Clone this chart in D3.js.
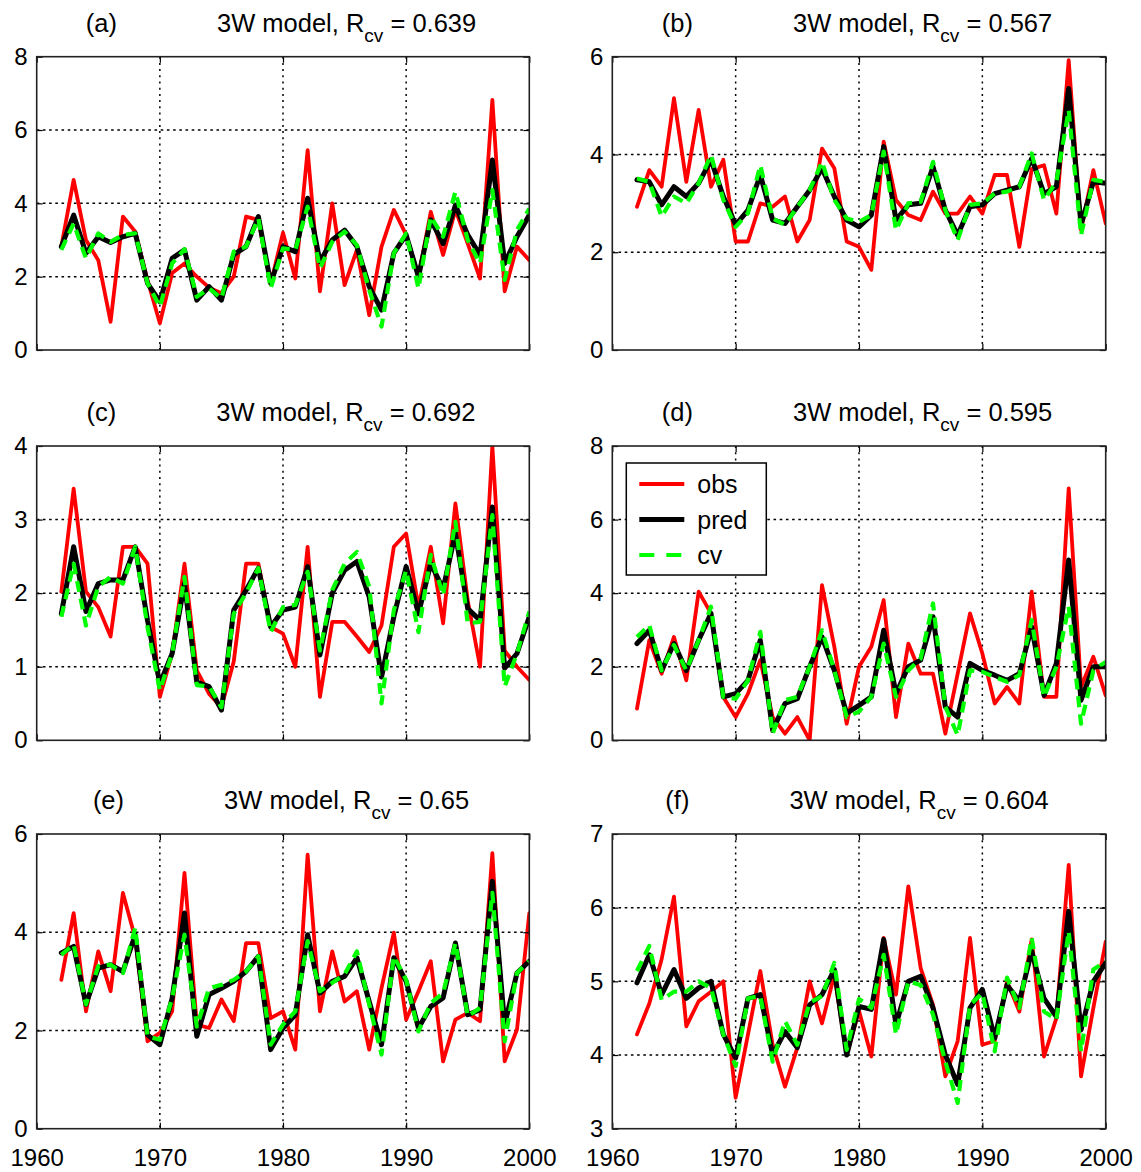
<!DOCTYPE html>
<html><head><meta charset="utf-8">
<script src="https://cdn.jsdelivr.net/npm/d3@7"></script>
<style>
body{margin:0;background:#fff}
svg text{font-family:"Liberation Sans",Arial,Helvetica,sans-serif}
</style>
</head><body>
<svg id="chart" width="1141" height="1172"></svg>
<script>
// ---------- data ----------
const years = [1962,1963,1964,1965,1966,1967,1968,1969,1970,1971,1972,1973,1974,1975,1976,1977,1978,1979,1980,
               1981,1982,1983,1984,1985,1986,1987,1988,1989,1990,1991,1992,1993,1994,1995,1996,1997,1998,1999,2000];
const xTickValues = [1960,1970,1980,1990,2000];
const panelLetters = ["(a)","(b)","(c)","(d)","(e)","(f)"];
const rcvValues = ["0.639","0.567","0.692","0.595","0.65","0.604"];
const seriesNames = ["obs","pred","cv"];

const yTicksA = [0,2,4,6,8];
const yTicksB = [0,2,4,6];
const yTicksC = [0,1,2,3,4];
const yTicksD = [0,2,4,6,8];
const yTicksE = [0,2,4,6];
const yTicksF = [3,4,5,6,7];

const obsA  = [2.82,4.64,3.0,2.45,0.77,3.64,3.23,1.9,0.73,2.1,2.36,2.0,1.7,1.55,2.0,3.64,3.55,1.8,3.2,
               1.95,5.45,1.6,4.0,1.77,2.73,0.95,2.82,3.82,3.14,2.0,3.77,2.59,3.82,2.9,1.95,6.82,1.6,2.82,2.45];
const predA = [2.82,3.68,2.64,3.09,2.93,3.09,3.18,1.82,1.32,2.5,2.73,1.36,1.73,1.36,2.6,2.82,3.64,1.82,2.82,
               2.68,4.14,2.41,3.0,3.27,2.82,1.73,1.09,2.64,3.14,2.0,3.55,2.9,3.95,3.14,2.59,5.18,2.36,3.09,3.68];
const cvA   = [2.73,3.45,2.5,3.18,2.95,3.14,3.18,1.82,1.18,2.36,2.75,1.45,1.68,1.41,2.68,2.82,3.59,1.68,2.77,
               2.73,3.91,2.23,2.95,3.23,2.86,1.64,0.64,2.64,3.18,1.68,3.64,3.09,4.32,3.0,2.36,4.36,1.91,3.27,3.86];

const obsB  = [2.93,3.68,3.34,5.15,3.44,4.91,3.34,3.89,2.22,2.22,3.0,2.93,3.14,2.22,2.66,4.12,3.72,2.22,2.11,
               1.64,4.26,3.07,2.76,2.66,3.24,2.79,2.79,3.14,2.79,3.58,3.58,2.11,3.7,3.78,2.79,5.93,2.45,3.68,2.59];
const predB = [3.48,3.44,2.97,3.34,3.14,3.41,3.89,3.14,2.56,2.86,3.58,2.66,2.59,2.93,3.27,3.72,3.14,2.66,2.52,
               2.76,4.16,2.66,2.97,3.0,3.75,2.86,2.35,2.93,2.97,3.2,3.27,3.34,3.92,3.2,3.34,5.35,2.56,3.44,3.41];
const cvB   = [3.51,3.44,2.73,3.14,3.0,3.41,3.99,3.07,2.52,2.8,3.78,2.69,2.56,2.93,3.27,3.85,3.07,2.69,2.62,
               2.76,4.06,2.45,3.0,3.03,3.85,2.86,2.25,2.97,3.0,3.2,3.24,3.34,4.02,3.07,3.44,4.91,2.35,3.48,3.44];

const obsC  = [2.02,3.42,2.02,1.81,1.41,2.63,2.63,2.4,0.59,1.18,2.4,0.95,0.63,0.45,1.07,2.4,2.4,1.54,1.45,
               1.0,2.63,0.59,1.61,1.61,1.41,1.2,1.56,2.63,2.81,1.81,2.63,1.59,3.22,1.9,1.0,4.0,1.22,1.0,0.82];
const predC = [1.72,2.63,1.75,2.13,2.18,2.18,2.63,1.63,0.77,1.18,2.13,0.79,0.73,0.41,1.77,2.04,2.34,1.54,1.77,
               1.81,2.36,1.16,2.0,2.31,2.43,1.95,0.86,1.68,2.36,1.72,2.4,2.06,2.81,1.79,1.63,3.17,0.98,1.18,1.68];
const cvC   = [1.68,2.4,1.56,2.09,2.22,2.13,2.63,1.54,0.68,1.18,2.22,0.75,0.73,0.45,1.72,2.0,2.34,1.47,1.81,
               1.84,2.29,1.22,2.04,2.4,2.56,2.09,0.5,1.77,2.31,1.47,2.52,1.97,2.97,1.59,1.61,3.06,0.73,1.18,1.75];

const obsD  = [0.86,2.72,1.81,2.81,1.63,4.04,3.45,1.18,0.63,1.27,2.18,0.63,0.18,0.63,0.0,4.22,2.54,0.45,2.0,
               2.54,3.81,0.63,2.63,1.81,1.81,0.18,1.81,3.45,2.36,1.0,1.45,1.0,4.04,1.18,1.18,6.85,1.45,2.27,1.22];
const predD = [2.63,2.99,1.9,2.63,1.9,2.72,3.45,1.18,1.27,1.63,2.72,0.27,1.0,1.13,2.0,2.81,1.9,0.73,0.95,
               1.18,2.99,1.27,2.0,2.18,3.36,0.91,0.63,2.09,1.9,1.77,1.63,1.81,3.08,1.22,2.09,4.9,1.09,2.0,2.0];
const cvD   = [2.81,3.13,1.9,2.59,1.9,2.72,3.63,1.18,1.13,1.63,2.95,0.18,1.09,1.18,2.0,2.99,1.9,0.63,0.78,
               1.18,2.63,1.18,1.9,2.22,3.72,0.91,0.14,1.9,1.86,1.72,1.59,1.77,3.27,1.18,2.0,3.63,0.45,1.9,2.13];

const obsE  = [3.03,4.39,2.39,3.61,2.8,4.8,3.88,1.78,1.95,2.39,5.21,2.12,2.05,2.63,2.19,3.78,3.78,2.25,2.39,
               1.61,5.58,2.39,3.61,2.59,2.8,1.61,2.86,3.99,2.22,2.8,3.41,1.37,2.22,2.36,2.19,5.61,1.37,2.02,4.39];
const predE = [3.58,3.71,2.53,3.27,3.34,3.2,3.95,1.91,1.71,2.66,4.39,1.88,2.73,2.86,3.0,3.2,3.51,1.61,2.05,
               2.32,3.95,2.76,3.0,3.1,3.48,2.59,1.71,3.48,3.0,2.05,2.49,2.66,3.78,2.32,2.42,5.04,2.12,3.17,3.41];
const cvE   = [3.54,3.75,2.53,3.31,3.34,3.17,4.09,1.88,1.81,2.66,3.95,2.08,2.86,2.93,3.03,3.2,3.51,1.71,2.12,
               2.39,3.82,2.8,2.97,3.14,3.61,2.53,1.51,3.51,3.03,1.98,2.56,2.76,3.78,2.29,2.46,4.8,1.78,3.17,3.41];

const obsF  = [4.28,4.7,5.3,6.15,4.39,4.73,4.86,5.0,3.42,4.28,5.14,4.14,3.57,4.1,5.0,4.43,5.09,4.0,4.6,
               3.98,5.59,4.82,6.29,5.18,4.68,3.71,4.19,5.59,4.14,4.19,5.0,4.59,5.57,3.98,4.5,6.58,3.71,4.64,5.54];
const predF = [4.98,5.36,4.82,5.16,4.77,4.91,5.0,4.28,3.96,4.77,4.82,4.0,4.32,4.1,4.68,4.82,5.16,4.0,4.66,
               4.62,5.57,4.41,5.0,5.07,4.64,4.0,3.6,4.64,4.89,4.23,4.95,4.73,5.41,4.77,4.52,5.95,4.34,5.0,5.25];
const cvF   = [5.14,5.48,4.75,4.86,4.86,5.0,4.91,4.28,3.85,4.77,4.8,3.91,4.46,4.14,4.71,4.8,5.25,4.07,4.76,
               4.64,5.36,4.28,5.0,4.95,4.55,3.91,3.35,4.68,4.84,4.05,5.05,4.64,5.59,4.59,4.48,5.68,4.05,5.16,5.27];

const panelTicks = [yTicksA,yTicksB,yTicksC,yTicksD,yTicksE,yTicksF];
const panelObs   = [obsA,obsB,obsC,obsD,obsE,obsF];
const panelPred  = [predA,predB,predC,predD,predE,predF];
const panelCv    = [cvA,cvB,cvC,cvD,cvE,cvF];

// ---------- layout ----------
const colX = [[36.7,529.3],[612.3,1105.7]];
const rowY = [[56.7,350],[446,740.3],[834,1128.7]];
const styles = {
  obs:  {color:"#ff0000", width:3.8, dash:null},
  pred: {color:"#000000", width:5, dash:null},
  cv:   {color:"#00ff00", width:4.2, dash:"11,7"}
};
const FONT = 24;
const TITLE_FONT = 25.5;

const svg = d3.select("#chart");

panelLetters.forEach((letter,i)=>{
  const col = i%2, row = Math.floor(i/2);
  const [x0,x1] = colX[col];
  const [y0,y1] = rowY[row];
  const ticks = panelTicks[i];
  const x = d3.scaleLinear().domain([xTickValues[0], xTickValues[xTickValues.length-1]]).range([x0,x1]);
  const y = d3.scaleLinear().domain([ticks[0], ticks[ticks.length-1]]).range([y1,y0]);

  const g = svg.append("g");
  const clipId = "clip"+i;
  g.append("clipPath").attr("id",clipId).append("rect")
    .attr("x",x0).attr("y",y0).attr("width",x1-x0).attr("height",y1-y0);

  // grid
  const grid = g.append("g").attr("stroke","#000").attr("stroke-width",1.5);
  xTickValues.slice(1,-1).forEach(t=>{
    grid.append("line").attr("x1",x(t)).attr("x2",x(t)).attr("y1",y0).attr("y2",y1)
      .attr("stroke-dasharray","2,4.2");
  });
  ticks.slice(1,-1).forEach(t=>{
    grid.append("line").attr("x1",x0).attr("x2",x1).attr("y1",y(t)).attr("y2",y(t))
      .attr("stroke-dasharray","2.6,3.6");
  });

  // series
  const series = {obs:panelObs[i], pred:panelPred[i], cv:panelCv[i]};
  const line = d3.line().x((d,k)=>x(years[k])).y(d=>y(d));
  const lg = g.append("g").attr("clip-path",`url(#${clipId})`);
  seriesNames.forEach(name=>{
    const s = styles[name];
    lg.append("path").datum(series[name])
      .attr("d",line).attr("fill","none")
      .attr("stroke",s.color).attr("stroke-width",s.width)
      .attr("stroke-linejoin","round")
      .attr("stroke-linecap", s.dash ? "butt" : "round")
      .attr("stroke-dasharray", s.dash);
  });

  // axes (inward ticks)
  const isBottom = row===2;
  const ax = (sel)=>{ sel.select(".domain").remove(); sel.selectAll("line").attr("stroke","#000").attr("stroke-width",1.2); sel.selectAll("text").attr("fill","#000"); sel.attr("font-size",FONT).attr("font-family",null); };
  g.append("g").attr("transform",`translate(0,${y1})`)
    .call(d3.axisBottom(x).tickValues(xTickValues).tickSize(-6).tickPadding(20).tickFormat(isBottom? d3.format("d") : ()=>""))
    .call(ax);
  g.append("g").attr("transform",`translate(0,${y0})`)
    .call(d3.axisTop(x).tickValues(xTickValues).tickSize(-6).tickFormat(()=>""))
    .call(ax);
  g.append("g").attr("transform",`translate(${x0},0)`)
    .call(d3.axisLeft(y).tickValues(ticks).tickSize(-6).tickPadding(9).tickFormat(d3.format("d")))
    .call(ax);
  g.append("g").attr("transform",`translate(${x1},0)`)
    .call(d3.axisRight(y).tickValues(ticks).tickSize(-6).tickFormat(()=>""))
    .call(ax);

  // box
  g.append("rect").attr("x",x0).attr("y",y0).attr("width",x1-x0).attr("height",y1-y0)
    .attr("fill","none").attr("stroke","#222").attr("stroke-width",1.6);

  // title
  const t = g.append("text").attr("x",(x0+x1)/2 - 2).attr("y",y0-25)
    .attr("text-anchor","middle").attr("font-size",TITLE_FONT).attr("fill","#000")
    .style("white-space","pre");
  t.append("tspan").text(letter);
  t.append("tspan").attr("dx",100).text("3W model, R");
  t.append("tspan").attr("dy",10).attr("font-size",19).text("cv");
  t.append("tspan").attr("dy",-10).text(" = "+rcvValues[i]);

  // legend in panel (d)
  if (i===3){
    const lgd = g.append("g");
    lgd.append("rect").attr("x",x0+14).attr("y",y0+17).attr("width",140).attr("height",112)
      .attr("fill","#fff").attr("stroke","#000").attr("stroke-width",1.5);
    seriesNames.forEach((name,k)=>{
      const s = styles[name];
      const ly = y0+38+k*35.5;
      lgd.append("line").attr("x1",x0+27).attr("x2",x0+72).attr("y1",ly).attr("y2",ly)
        .attr("stroke",s.color).attr("stroke-width",s.width).attr("stroke-dasharray",s.dash ? "15,12" : null);
      lgd.append("text").attr("x",x0+85).attr("y",ly+9).attr("font-size",25).attr("fill","#000").text(name);
    });
  }
});
</script>
</body></html>
